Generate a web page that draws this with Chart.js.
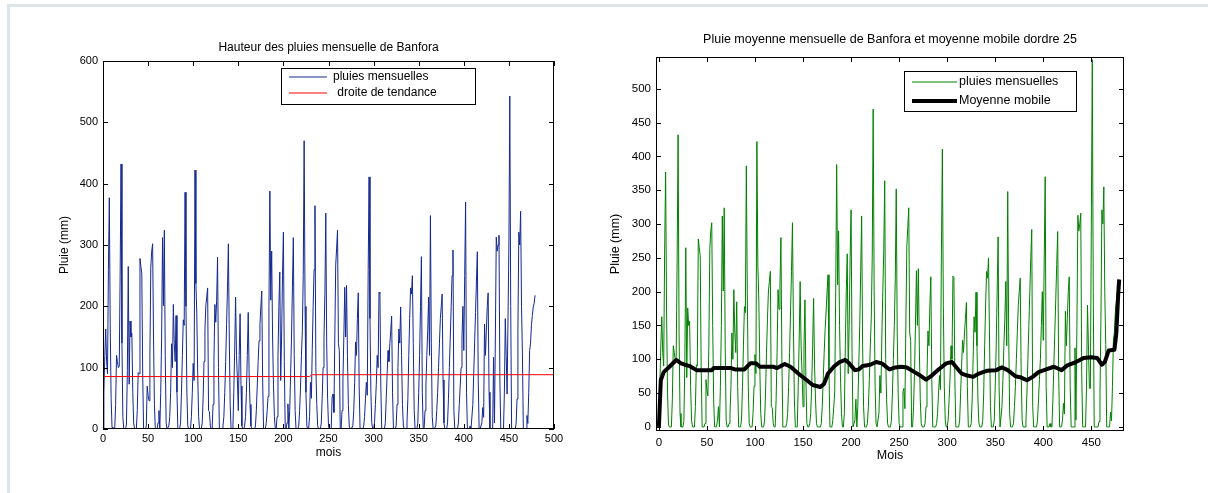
<!DOCTYPE html>
<html lang="fr">
<head>
<meta charset="UTF-8">
<title>Pluies mensuelles de Banfora</title>
<script src="https://cdn.jsdelivr.net/npm/chart.js@4.4.0/dist/chart.umd.min.js"></script>
<style>
  html, body { margin: 0; padding: 0; background: #fff; }
  body { width: 1208px; height: 493px; position: relative; overflow: hidden; }
  .cadre { position: absolute; left: 7px; top: 4px; right: 0; bottom: 0;
           border-top: 3px solid #dfe4ea; border-left: 3px solid #dfe4ea; }
  #chart-gauche { position: absolute; left: 0; top: 0; }
  #chart-droite { position: absolute; left: 600px; top: 0; }
</style>
</head>
<body>
<div class="cadre"></div>
<canvas id="chart-gauche" width="600" height="493"></canvas>
<canvas id="chart-droite" width="608" height="493"></canvas>

<script>
// pluies mensuelles (mm), une ligne = 12 mois
const pluie = [
  0, 60, 120, 163, 110, 90, 260, 377, 170, 50, 3, 0,
  0, 0, 40, 120, 110, 100, 102, 250, 432, 140, 20, 0,
  0, 0, 8, 95, 265, 73, 176, 150, 156, 60, 10, 0,
  0, 0, 30, 92, 90, 278, 265, 254, 90, 0, 0, 0,
  5, 70, 55, 46, 120, 264, 290, 302, 150, 40, 0, 0,
  0, 10, 30, 0, 60, 150, 312, 201, 324, 120, 10, 0,
  0, 5, 20, 60, 139, 100, 203, 140, 110, 185, 60, 0,
  0, 0, 10, 60, 120, 178, 169, 386, 200, 60, 5, 0,
  0, 0, 20, 60, 107, 79, 422, 237, 188, 90, 20, 0,
  0, 0, 10, 50, 110, 160, 201, 215, 230, 30, 28, 5,
  0, 0, 40, 110, 203, 174, 210, 280, 100, 0, 0, 0,
  0, 5, 20, 60, 110, 170, 230, 302, 150, 40, 0, 0,
  0, 60, 130, 215, 120, 80, 30, 120, 188, 70, 5, 0,
  0, 5, 20, 60, 120, 190, 90, 40, 5, 0, 0, 0,
  0, 5, 30, 70, 110, 144, 170, 200, 225, 80, 0, 0,
  0, 10, 30, 53, 200, 388, 210, 290, 150, 73, 20, 0,
  0, 20, 120, 200, 256, 79, 150, 250, 321, 110, 0, 0,
  10, 41, 0, 30, 90, 150, 230, 312, 120, 30, 0, 0,
  0, 5, 30, 70, 120, 160, 250, 470, 200, 60, 5, 0,
  0, 20, 76, 50, 130, 200, 260, 364, 100, 40, 5, 0,
  0, 0, 10, 50, 100, 150, 220, 352, 140, 50, 5, 0,
  0, 0, 52, 57, 27, 150, 267, 295, 324, 139, 128, 0,
  0, 30, 80, 150, 231, 150, 234, 120, 40, 5, 0, 0,
  0, 5, 30, 76, 142, 120, 180, 222, 70, 0, 0, 0,
  0, 5, 20, 50, 76, 55, 260, 411, 180, 60, 10, 0,
  0, 10, 40, 73, 120, 100, 223, 221, 70, 0, 0, 0,
  0, 10, 50, 90, 128, 110, 139, 160, 184, 60, 0, 0,
  0, 5, 40, 100, 163, 140, 199, 120, 40, 5, 0, 0,
  0, 10, 50, 120, 180, 230, 220, 250, 139, 30, 0, 0,
  0, 10, 60, 120, 200, 281, 60, 0, 0, 30, 70, 120,
  160, 215, 120, 348, 140, 20, 0, 0, 0, 5, 30, 60,
  100, 140, 180, 200, 220, 80, 10, 0, 0, 0, 10, 50,
  100, 150, 200, 250, 292, 30, 0, 0, 0, 0, 10, 40,
  70, 100, 150, 200, 128, 250, 370, 60, 0, 0, 0, 5,
  0, 0, 40, 90, 140, 190, 240, 289, 80, 0, 0, 0,
  10, 35, 19, 171, 120, 160, 200, 222, 60, 0, 0, 0,
  0, 117, 10, 150, 313, 290, 300, 316, 80, 0, 0, 0,
  0, 60, 180, 120, 57, 57, 300, 543, 200, 0, 0, 0,
  0, 0, 8, 49, 160, 321, 300, 355, 200, 122, 0, 0,
  0, 0, 22, 9, 60, 128, 140, 170, 185, 199, 205, 218
];
const mois = pluie.map(function (v, i) { return i; });

// droite de tendance
const tendanceMois = [0, 229, 232, 500];
const tendanceValeur = [85.5, 85.5, 88.5, 88.5];

// moyenne mobile d'ordre 25
const maMois = [0, 2, 5, 11, 18, 23, 27, 32, 39, 55, 57, 75, 79, 89, 95, 101, 105, 119, 123, 131,
  137, 145, 154, 160, 168, 172, 176, 182, 188, 194, 198, 204, 208, 212, 220, 226, 232, 240, 246, 252,
  258, 266, 272, 278, 284, 291, 299, 305, 309, 315, 321, 327, 333, 341, 351, 357, 363, 371, 377, 383,
  389, 395, 403, 411, 419, 425, 434, 442, 450, 456, 461, 464, 468, 474, 476, 478, 479];
const maValeur = [0, 69, 81, 89, 99, 94, 92, 90, 84, 84, 87, 87, 85, 85, 94, 94, 89, 89, 87, 93,
  89, 79, 69, 62, 59, 64, 79, 89, 96, 99, 94, 84, 85, 90, 92, 96, 94, 85, 88, 89,
  88, 81, 76, 70, 76, 85, 94, 96, 89, 79, 76, 74, 79, 83, 84, 88, 84, 75, 73, 69,
  74, 81, 85, 89, 84, 91, 96, 102, 103, 102, 92, 96, 113, 114, 138, 197, 218];

const ticksXGauche = [0, 50, 100, 150, 200, 250, 300, 350, 400, 450, 500];
const ticksYGauche = [0, 100, 200, 300, 400, 500, 600];
const ticksXDroite = [0, 50, 100, 150, 200, 250, 300, 350, 400, 450];
const ticksYDroite = [0, 50, 100, 150, 200, 250, 300, 350, 400, 450, 500];

const POLICE = '"Liberation Sans", Arial, Helvetica, sans-serif';

function points(xs, ys) {
  return xs.map(function (x, i) { return { x: x, y: ys[i] }; });
}

function axe(min, max, ticks, taille, padding, fontSize) {
  return {
    type: 'linear', min: min, max: max,
    grid: { display: false, drawTicks: false },
    border: { display: false },
    ticks: { padding: padding, color: '#000', autoSkip: false, maxRotation: 0,
             font: { family: POLICE, size: fontSize } },
    afterBuildTicks: function (s) { s.ticks = ticks.map(function (v) { return { value: v }; }); },
    afterFit: function (s) { if (s.isHorizontal()) s.height = taille; else s.width = taille; }
  };
}

// boîte façon matlab : cadre, graduations intérieures, titres, légende
const cadreMatlab = {
  id: 'cadre',
  afterDatasetsDraw: function (chart, args, o) {
    const ctx = chart.ctx;
    const a = chart.chartArea;
    const xs = chart.scales.x, ys = chart.scales.y;
    ctx.save();
    ctx.strokeStyle = '#000';
    ctx.lineWidth = 1;
    ctx.strokeRect(Math.round(a.left) + 0.5, Math.round(a.top) + 0.5,
                   Math.round(a.width) - 1, Math.round(a.height) - 1);
    ctx.beginPath();
    xs.ticks.forEach(function (t) {
      const px = Math.round(xs.getPixelForValue(t.value)) + 0.5;
      ctx.moveTo(px, a.top); ctx.lineTo(px, a.top + 5);
      ctx.moveTo(px, a.bottom); ctx.lineTo(px, a.bottom - 5);
    });
    ys.ticks.forEach(function (t) {
      const py = Math.round(ys.getPixelForValue(t.value)) + 0.5;
      ctx.moveTo(a.left, py); ctx.lineTo(a.left + 5, py);
      ctx.moveTo(a.right, py); ctx.lineTo(a.right - 5, py);
    });
    ctx.stroke();

    // légende
    const L = o.legende;
    ctx.fillStyle = '#fff';
    ctx.fillRect(L.x, L.y, L.w, L.h);
    ctx.strokeRect(L.x + 0.5, L.y + 0.5, L.w, L.h);
    ctx.font = L.fontSize + 'px ' + POLICE;
    ctx.textAlign = 'left';
    ctx.textBaseline = 'middle';
    L.lignes.forEach(function (ln, i) {
      const ds = chart.data.datasets[i];
      ctx.strokeStyle = ds.borderColor;
      ctx.lineWidth = ds.borderWidth;
      ctx.beginPath();
      ctx.moveTo(L.x1, ln.y); ctx.lineTo(L.x2, ln.y);
      ctx.stroke();
      ctx.fillStyle = '#000';
      ctx.fillText(ds.label, ln.tx, ln.y);
    });

    // titres
    ctx.fillStyle = '#000';
    ctx.textAlign = 'center';
    ctx.font = o.fontSize + 'px ' + POLICE;
    const cx = (a.left + a.right) / 2;
    ctx.fillText(o.titre, cx, o.titreY);
    ctx.fillText(o.titreX, cx, o.titreXY);
    ctx.translate(o.titreYX, (a.top + a.bottom) / 2);
    ctx.rotate(-Math.PI / 2);
    ctx.fillText(o.titreYTexte, 0, 0);
    ctx.restore();
  }
};

// graphique de gauche
new Chart(document.getElementById('chart-gauche').getContext('2d'), {
  type: 'line',
  data: {
    datasets: [{
      label: 'pluies mensuelles',
      data: points(mois, pluie),
      borderColor: '#14288f',
      borderWidth: 1,
      pointRadius: 0,
      tension: 0,
      order: 2
    }, {
      label: ' droite de tendance',
      data: points(tendanceMois, tendanceValeur),
      borderColor: '#ff0000',
      borderWidth: 1,
      pointRadius: 0,
      tension: 0,
      order: 1
    }]
  },
  options: {
    responsive: false,
    animation: false,
    events: [],
    layout: { padding: { left: 43, right: 46, top: 61, bottom: 34 } },
    scales: {
      x: axe(0, 500, ticksXGauche, 30, 3, 11),
      y: axe(0, 600, ticksYGauche, 60, 5, 11)
    },
    plugins: {
      legend: { display: false },
      tooltip: { enabled: false },
      cadre: {
        fontSize: 12,
        titre: 'Hauteur des pluies mensuelle de Banfora', titreY: 48,
        titreX: 'mois', titreXY: 453,
        titreYTexte: 'Pluie (mm)', titreYX: 65,
        legende: { x: 281, y: 68, w: 194, h: 36, x1: 289, x2: 327, fontSize: 12,
                   lignes: [{ y: 77, tx: 333 }, { y: 93, tx: 334 }] }
      }
    }
  },
  plugins: [cadreMatlab]
});

// graphique de droite
new Chart(document.getElementById('chart-droite').getContext('2d'), {
  type: 'line',
  data: {
    datasets: [{
      label: 'pluies mensuelles',
      data: points(mois, pluie),
      borderColor: '#008000',
      borderWidth: 1,
      pointRadius: 0,
      tension: 0,
      order: 2
    }, {
      label: 'Moyenne mobile',
      data: points(maMois, maValeur),
      borderColor: '#000000',
      borderWidth: 4,
      borderJoinStyle: 'round',
      pointRadius: 0,
      tension: 0,
      order: 1
    }]
  },
  options: {
    responsive: false,
    animation: false,
    events: [],
    layout: { padding: { left: 6, right: 84, top: 57, bottom: 32 } },
    scales: {
      x: axe(-3, 484, ticksXDroite, 30, 5, 11.5),
      y: axe(-6, 547, ticksYDroite, 50, 5, 11.5)
    },
    plugins: {
      legend: { display: false },
      tooltip: { enabled: false },
      cadre: {
        fontSize: 12.5,
        titre: 'Pluie moyenne mensuelle de Banfora et moyenne mobile dordre 25', titreY: 40,
        titreX: 'Mois', titreXY: 456,
        titreYTexte: 'Pluie (mm)', titreYX: 16,
        legende: { x: 304, y: 71, w: 172, h: 40, x1: 312, x2: 357, fontSize: 12.5,
                   lignes: [{ y: 82, tx: 359 }, { y: 101, tx: 359 }] }
      }
    }
  },
  plugins: [cadreMatlab]
});
</script>
</body>
</html>
